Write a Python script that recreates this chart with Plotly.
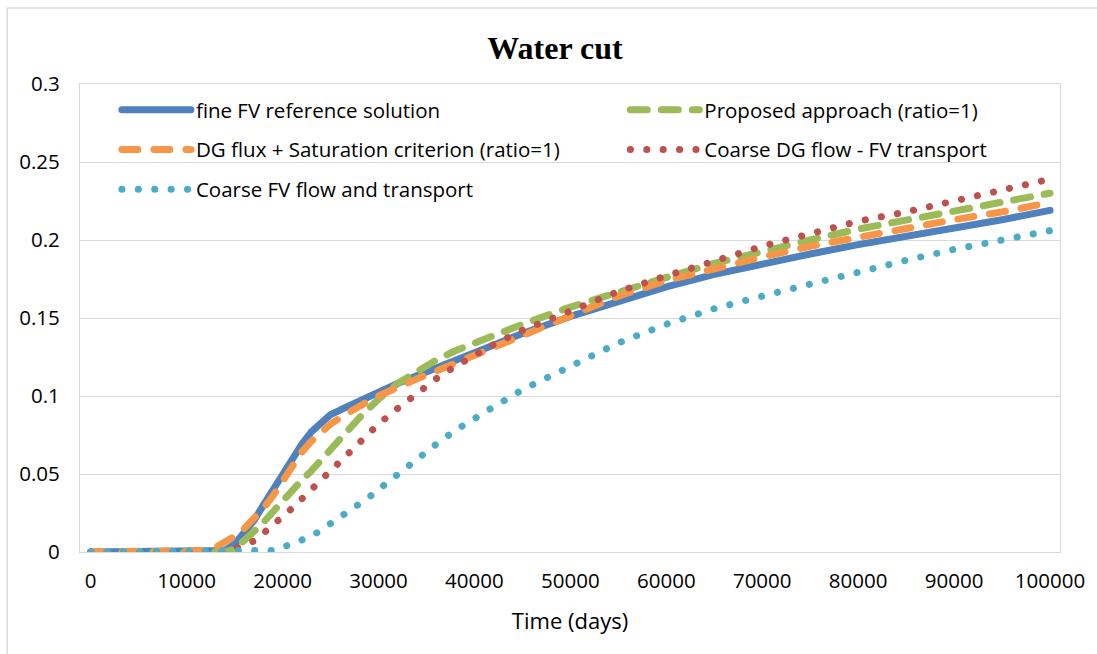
import plotly.graph_objects as go

# ---- data ----
time_days = [0, 5000, 10000, 12000, 13000, 14000, 15000, 16000, 17000, 18000,
             19000, 20000, 21000, 22000, 23000, 24000, 25000, 26000, 27000, 28000,
             29000, 30000, 32000, 34000, 36000, 38000, 40000, 42000, 45000, 50000,
             55000, 60000, 65000, 70000, 75000, 80000, 85000, 90000, 95000, 100000]

fine_fv = [0, 0, 0, 0, 0, 0.001, 0.005, 0.012, 0.020, 0.030,
           0.040, 0.050, 0.060, 0.069, 0.077, 0.083, 0.088, 0.091, 0.094, 0.097,
           0.100, 0.103, 0.108, 0.113, 0.118, 0.123, 0.128, 0.133, 0.140, 0.151,
           0.161, 0.170, 0.178, 0.185, 0.191, 0.197, 0.202, 0.208, 0.213, 0.219]

proposed = [0, 0, 0, 0, 0, 0, 0.002, 0.007, 0.013, 0.019,
            0.026, 0.033, 0.040, 0.046, 0.052, 0.059, 0.066, 0.073, 0.079, 0.086,
            0.092, 0.098, 0.108, 0.116, 0.123, 0.129, 0.134, 0.139, 0.146, 0.157,
            0.167, 0.176, 0.185, 0.193, 0.200, 0.207, 0.213, 0.219, 0.225, 0.230]

dg_flux = [0, 0, 0, 0.001, 0.003, 0.006, 0.010, 0.015, 0.021, 0.028,
           0.036, 0.045, 0.055, 0.064, 0.071, 0.077, 0.082, 0.086, 0.090, 0.094,
           0.097, 0.100, 0.106, 0.111, 0.116, 0.121, 0.126, 0.131, 0.139, 0.151,
           0.164, 0.174, 0.182, 0.189, 0.196, 0.202, 0.207, 0.213, 0.218, 0.224]

coarse_dg = [0, 0, 0, 0, 0, 0, 0.002, 0.004, 0.007, 0.012,
             0.017, 0.023, 0.028, 0.034, 0.040, 0.046, 0.052, 0.059, 0.064, 0.070,
             0.076, 0.082, 0.092, 0.102, 0.111, 0.119, 0.126, 0.133, 0.142, 0.155,
             0.167, 0.177, 0.187, 0.196, 0.204, 0.212, 0.218, 0.225, 0.232, 0.239]

coarse_fv = [0, 0, 0, 0, 0, 0, 0, 0, 0, 0,
             0.001, 0.003, 0.005, 0.007, 0.010, 0.014, 0.018, 0.022, 0.026, 0.031,
             0.035, 0.040, 0.050, 0.059, 0.069, 0.078, 0.086, 0.093, 0.104, 0.119,
             0.134, 0.146, 0.156, 0.164, 0.172, 0.180, 0.187, 0.194, 0.200, 0.206]

series_names = ["fine FV reference solution",
                "Proposed approach (ratio=1)",
                "DG flux + Saturation criterion (ratio=1)",
                "Coarse DG flow - FV transport",
                "Coarse FV flow and transport"]

x_ticks = [0, 10000, 20000, 30000, 40000, 50000, 60000, 70000, 80000, 90000, 100000]
y_ticks = [0, 0.05, 0.1, 0.15, 0.2, 0.25, 0.3]
y_tick_text = ["0", "0.05", "0.1", "0.15", "0.2", "0.25", "0.3"]

# ---- styles ----
styles = [
    dict(color="#4F81BD", width=7, dash="solid", legend="legend"),
    dict(color="#9BBB59", width=7, dash="17px,14px", legend="legend2"),
    dict(color="#F79646", width=7, dash="16px,16px", legend="legend"),
    dict(color="#C0504D", width=7, dash="0.1px,16.3px", legend="legend2"),
    dict(color="#4BACC6", width=7, dash="0.1px,16.3px", legend="legend"),
]
values = [fine_fv, proposed, dg_flux, coarse_dg, coarse_fv]

FONT = "Open Sans"

fig = go.Figure()
for name, ys, st in zip(series_names, values, styles):
    fig.add_trace(go.Scatter(
        x=time_days, y=ys, mode="lines", name=name,
        line=dict(color=st["color"], width=st["width"], dash=st["dash"]),
        legend=st["legend"], legendgroup=name,
    ))

W, H = 1097, 654
L, R, T, B = 80, 34, 84, 102
pw, ph = W - L - R, H - T - B


def px_x(p):
    return (p - L) / pw


def px_y(p):
    return (H - B - p) / ph


legend_common = dict(
    orientation="v", xanchor="left", yanchor="top",
    font=dict(family=FONT, size=20.5, color="#000000"),
    bgcolor="rgba(0,0,0,0)", borderwidth=0,
    itemwidth=69, tracegroupgap=10, traceorder="grouped",
)

fig.update_layout(
    width=W, height=H, autosize=False,
    margin=dict(l=L, r=R, t=T, b=B, pad=0),
    paper_bgcolor="white", plot_bgcolor="white",
    title=dict(text="<b>Water cut</b>", x=555 / W, xref="container", xanchor="center",
               y=1 - 48 / H, yref="container", yanchor="middle",
               font=dict(family="Liberation Serif", size=32, color="#000000")),
    font=dict(family=FONT, color="#000000"),
    legend=dict(x=px_x(117), y=px_y(90), **legend_common),
    legend2=dict(x=px_x(627), y=px_y(90), **legend_common),
    xaxis=dict(
        range=[-1112, 101039], tickvals=x_ticks, ticktext=[str(v) for v in x_ticks],
        showgrid=False, zeroline=False,
        showline=True, mirror=True, linecolor="#D9D9D9", linewidth=1.3,
        ticks="outside", ticklen=10, tickcolor="rgba(0,0,0,0)",
        tickfont=dict(family=FONT, size=20.5, color="#000000"),
        title=dict(text="Time (days)", standoff=20,
                   font=dict(family=FONT, size=22, color="#000000")),
    ),
    yaxis=dict(
        range=[0, 0.3], tickvals=y_ticks, ticktext=y_tick_text,
        showgrid=True, gridcolor="#D9D9D9", gridwidth=1.3, zeroline=False,
        showline=True, mirror=True, linecolor="#D9D9D9", linewidth=1.3,
        ticks="outside", ticklen=15, tickcolor="rgba(0,0,0,0)",
        tickfont=dict(family=FONT, size=20.5, color="#000000"),
    ),
    shapes=[
        dict(type="line", xref="paper", yref="paper", x0=px_x(7), x1=px_x(7),
             y0=px_y(8), y1=px_y(670), line=dict(color="#D9D9D9", width=1.5)),
        dict(type="line", xref="paper", yref="paper", x0=px_x(7), x1=px_x(1110),
             y0=px_y(8), y1=px_y(8), line=dict(color="#D9D9D9", width=1.5)),
    ],
)

post = ("document.body.style.margin='0';"
        "var s=document.createElement('style');"
        "s.innerHTML='body{margin:0}.js-line{stroke-linecap:round;stroke-linejoin:round}';"
        "document.head.appendChild(s);")

fig.write_html("out.html", post_script=post, config={"displayModeBar": False})
